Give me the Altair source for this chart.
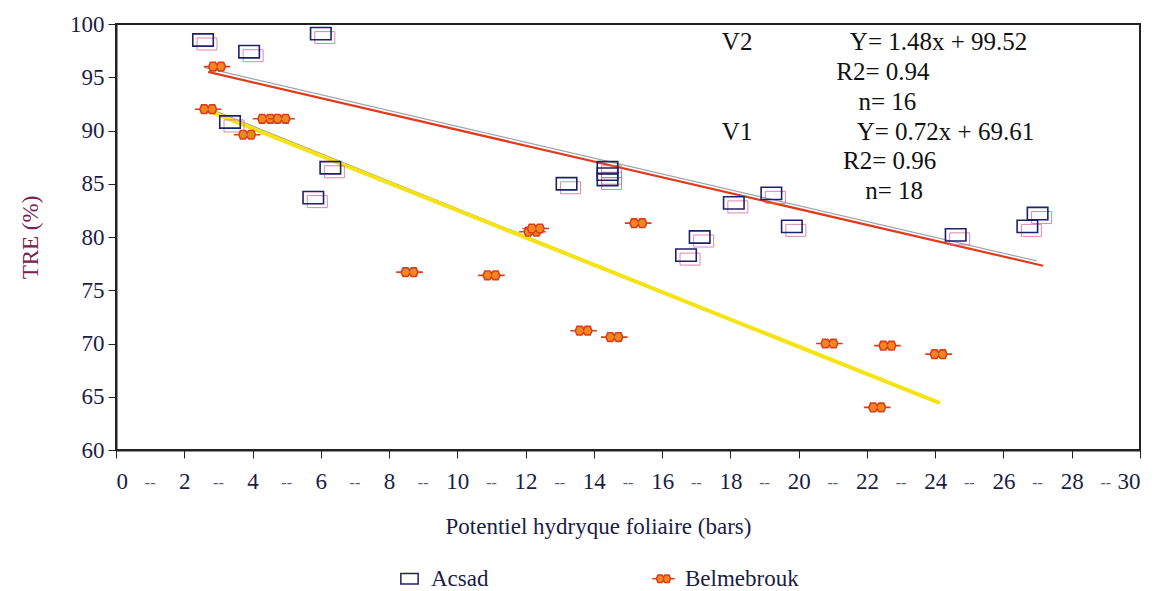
import altair as alt
import pandas as pd

# ---- data ----
acsad_x = [2.55, 3.9, 6.0, 3.34, 6.28, 5.78, 13.2, 14.4, 14.4, 14.4, 17.1, 16.7, 18.1, 19.2, 19.8, 24.6, 26.7, 27.0]
acsad_y = [98.5, 97.4, 99.1, 90.8, 86.5, 83.7, 85.0, 86.5, 85.9, 85.4, 80.0, 78.3, 83.2, 84.1, 81.0, 80.2, 81.0, 82.2]

belm_x = [2.96, 2.70, 4.4, 4.85, 3.84, 12.2, 12.3, 8.6, 11.0, 15.3, 13.7, 14.6, 20.9, 22.6, 24.1, 22.3]
belm_y = [96.0, 92.0, 91.1, 91.1, 89.6, 80.5, 80.8, 76.7, 76.4, 81.3, 71.2, 70.6, 70.0, 69.8, 69.0, 64.0]

# regression lines (endpoints as drawn)
line_names = ["V2g", "V2g", "V2", "V2", "V1g", "V1g", "V1", "V1"]
line_x = [2.6, 26.98, 2.7, 27.16, 2.55, 23.9, 2.55, 24.14]
line_y = [95.9, 77.75, 95.5, 77.3, 92.3, 64.7, 92.05, 64.4]

ann_text = ["V2", "Y= 1.48x + 99.52", "R2= 0.94", "n= 16", "V1", "Y= 0.72x + 69.61", "R2= 0.96", "n= 18"]
ann_x = [17.75, 21.5, 21.1, 21.75, 17.75, 21.7, 21.3, 21.95]
ann_y = [98.3, 98.3, 95.5, 92.7, 89.9, 89.9, 87.1, 84.3]

x_ticks = list(range(0, 31, 2))
dash_x = list(range(1, 30, 2))
y_ticks = [60, 65, 70, 75, 80, 85, 90, 95, 100]

series = ["Acsad", "Belmebrouk"]

# ---- tables ----
pts = pd.DataFrame({
    "x": acsad_x + belm_x,
    "y": acsad_y + belm_y,
    "s": ["Acsad"] * len(acsad_x) + ["Belmebrouk"] * len(belm_x),
})
ghost = pd.DataFrame({"x": acsad_x, "y": acsad_y})
lines = pd.DataFrame({"name": line_names, "x": line_x, "y": line_y})
ann = pd.DataFrame({"t": ann_text, "x": ann_x, "y": ann_y})
dashes = pd.DataFrame({"x": dash_x, "y": [60] * len(dash_x)})

SERIF = "'Liberation Serif', 'Times New Roman', serif"
INK = "#1b1d45"
RECT = "M-1,-0.6L1,-0.6L1,0.6L-1,0.6Z"
BOW = ("M-1.3,0L-0.82,0L-0.64,-0.42L-0.16,-0.42L0,-0.15L0.16,-0.42L0.64,-0.42L0.82,0L1.3,0"
       "L0.82,0L0.64,0.42L0.16,0.42L0,0.15L-0.16,0.42L-0.64,0.42L-0.82,0Z")

xs = alt.Scale(domain=[0, 30], nice=False, zero=False)
ys = alt.Scale(domain=[60, 100], nice=False, zero=False)

xaxis = alt.Axis(values=x_ticks, grid=False, labelPadding=12,
                 title="Potentiel hydryque foliaire (bars)", titleX=482, titleY=76,
                 titleBaseline="middle")
yaxis = alt.Axis(values=y_ticks, grid=False, labelPadding=4,
                 title="TRE (%)", titleColor="#7a2050", titleX=-86, titleY=213,
                 titleBaseline="middle")

line_style = {"V2g": ("#9ea4ae", 1.3), "V2": ("#e23a1c", 2.2),
              "V1g": ("#a3a290", 1.2), "V1": ("#f4e414", 4)}

line_layers = []
for i, (nm, (col, w)) in enumerate(line_style.items()):
    enc = dict(x=alt.X("x:Q", scale=xs), y=alt.Y("y:Q", scale=ys), order=alt.Order("x:Q"))
    if i == 0:
        enc = dict(x=alt.X("x:Q", scale=xs, axis=xaxis), y=alt.Y("y:Q", scale=ys, axis=yaxis),
                   order=alt.Order("x:Q"))
    line_layers.append(
        alt.Chart(lines).transform_filter(alt.datum.name == nm)
        .mark_line(color=col, strokeWidth=w).encode(**enc)
    )

ghost_pts = alt.Chart(ghost).mark_point(shape=RECT, size=400, filled=False, color="#d46a98",
                                        strokeWidth=1, opacity=0.8, xOffset=4, yOffset=4).encode(
    x=alt.X("x:Q", scale=xs), y=alt.Y("y:Q", scale=ys))

leg = alt.Legend(orient="none", legendX=282, legendY=543, direction="horizontal", title=None)

points = alt.Chart(pts).mark_point(strokeWidth=1.6, size=420, opacity=1).encode(
    x=alt.X("x:Q", scale=xs),
    y=alt.Y("y:Q", scale=ys),
    color=alt.Color("s:N", scale=alt.Scale(domain=series, range=["#1c2366", "#d8401a"]), legend=leg),
    shape=alt.Shape("s:N", scale=alt.Scale(domain=series, range=[RECT, BOW]), legend=leg),
    fill=alt.Fill("s:N", scale=alt.Scale(domain=series, range=["transparent", "#f7851f"]), legend=leg),
)

texts = alt.Chart(ann).mark_text(font=SERIF, fontSize=25, color="#111", align="left",
                                 baseline="middle").encode(
    x=alt.X("x:Q", scale=xs), y=alt.Y("y:Q", scale=ys), text="t:N")

dash_t = alt.Chart(dashes).mark_text(font=SERIF, fontSize=16, color="#5a5a7a", dy=33,
                                     baseline="middle").encode(
    x=alt.X("x:Q", scale=xs), y=alt.Y("y:Q", scale=ys), text=alt.value("--"))

chart = alt.layer(*line_layers, ghost_pts, points, texts, dash_t).properties(
    width=1024, height=426,
    background="white",
    autosize=alt.AutoSizeParams(type="none"),
    padding={"left": 116, "top": 24, "right": 33, "bottom": 141},
).configure(font=SERIF).configure_view(stroke="#222", strokeWidth=2).configure_axis(
    labelFont=SERIF, labelFontSize=23, labelColor=INK, tickSize=8, tickColor="#222",
    domainColor="#222", domainWidth=2, titleFont=SERIF, titleFontSize=23,
    titleFontWeight="normal", titleColor=INK,
).configure_legend(
    labelFont=SERIF, labelFontSize=23, labelColor=INK, columnPadding=160,
    symbolSize=300, symbolStrokeWidth=1.5, labelOffset=10, symbolOpacity=1,
)

chart.save("out.html", embed_options={"renderer": "svg", "actions": False})
